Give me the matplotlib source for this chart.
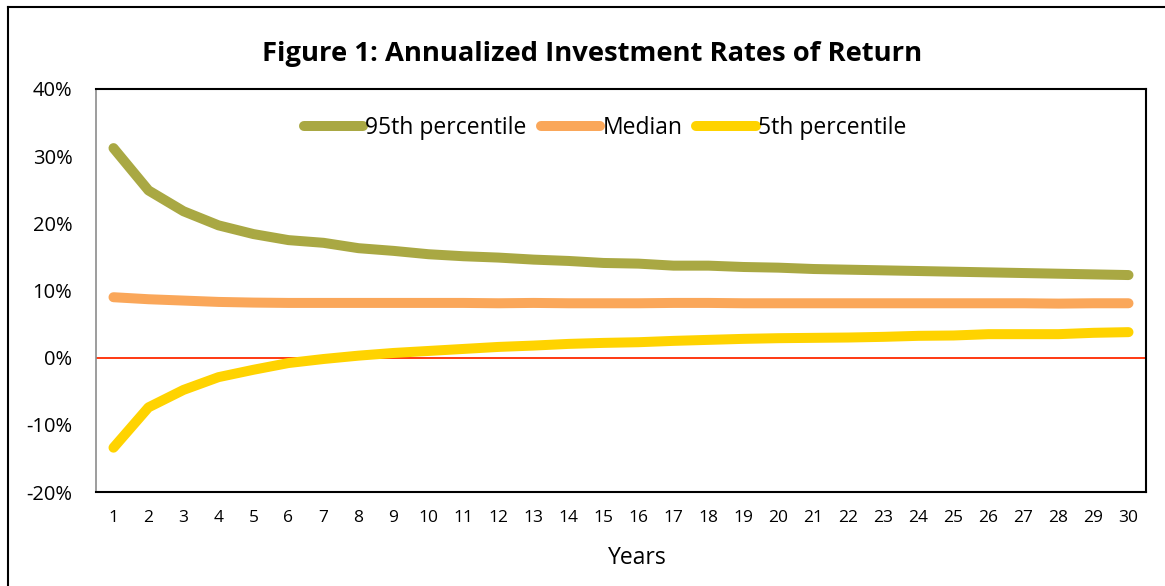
"""Annualized investment rates of return: 95th percentile, median and
5th percentile over 1-30 years, drawn as thick lines with a red zero line."""

import matplotlib
matplotlib.use("Agg")
import matplotlib.pyplot as plt
from matplotlib.lines import Line2D

years = list(range(1, 31))

p95 = [31.2, 24.9, 21.8, 19.7, 18.4, 17.5, 17.1, 16.3, 15.9, 15.4,
       15.1, 14.9, 14.6, 14.4, 14.1, 14.0, 13.7, 13.7, 13.5, 13.4,
       13.2, 13.1, 13.0, 12.9, 12.8, 12.7, 12.6, 12.5, 12.4, 12.3]
median = [9.0, 8.7, 8.5, 8.3, 8.2, 8.15, 8.15, 8.15, 8.15, 8.15,
          8.15, 8.1, 8.15, 8.1, 8.1, 8.1, 8.15, 8.15, 8.1, 8.1,
          8.1, 8.1, 8.1, 8.1, 8.1, 8.1, 8.1, 8.05, 8.1, 8.1]
p5 = [-13.4, -7.4, -4.8, -2.9, -1.8, -0.8, -0.2, 0.3, 0.7, 1.0,
      1.3, 1.6, 1.8, 2.05, 2.2, 2.3, 2.5, 2.65, 2.8, 2.9,
      2.95, 3.0, 3.1, 3.25, 3.3, 3.5, 3.5, 3.5, 3.7, 3.8]

series_names = ["95th percentile", "Median", "5th percentile"]
series_colors = ["#A9A843", "#FAA75A", "#FFD300"]
y_ticks = [-20, -10, 0, 10, 20, 30, 40]

plt.rcParams["font.family"] = ["Open Sans", "DejaVu Sans"]

fig = plt.figure(figsize=(11.65, 5.86), dpi=100)
ax = fig.add_axes([96 / 1165, 1 - 492 / 586, 1050 / 1165, 403 / 586])

for vals, name, color in zip([p95, median, p5], series_names, series_colors):
    ax.plot(years, vals, color=color, linewidth=7.2, label=name,
            solid_capstyle="round", solid_joinstyle="round")

ax.axhline(0, color="#FF2A00", linewidth=1.3, zorder=1)

ax.set_xlim(0.5, 30.5)
ax.set_ylim(-20, 40)
ax.set_xticks(years)
ax.set_yticks(y_ticks)
ax.set_yticklabels([f"{v}%" for v in y_ticks])
ax.tick_params(axis="y", length=0, pad=17, labelsize=14.5)
ax.tick_params(axis="x", length=0, pad=13, labelsize=12.5)

for side in ["top", "right", "bottom"]:
    ax.spines[side].set_color("black")
    ax.spines[side].set_linewidth(1.5)
ax.spines["left"].set_color("#8C8C8C")
ax.spines["left"].set_linewidth(1.2)

ax.set_xlabel("Years", fontsize=16.5)
ax.xaxis.set_label_coords((637 - 96) / 1050, -(558 - 492) / 403, transform=ax.transAxes)
ax.xaxis.label.set_va("center")

fig.text(592 / 1165, 1 - 54 / 586, "Figure 1: Annualized Investment Rates of Return",
         ha="center", va="center", fontsize=19.7, fontweight="bold")

fig.legend(loc="center", bbox_to_anchor=(605 / 1165, 1 - 128 / 586), ncol=3,
           frameon=False, fontsize=16.5, handlelength=2.6, handletextpad=0.1,
           columnspacing=0.6)

# outer frame of the figure (left and top edges show in the reference)
fig.add_artist(Line2D([8 / 1165, 8 / 1165], [0, 1 - 7 / 586], color="black",
                      linewidth=1.5, transform=fig.transFigure))
fig.add_artist(Line2D([8 / 1165, 1], [1 - 7 / 586, 1 - 7 / 586], color="black",
                      linewidth=1.5, transform=fig.transFigure))

fig.savefig("out.png", dpi=100)
plt.close(fig)
